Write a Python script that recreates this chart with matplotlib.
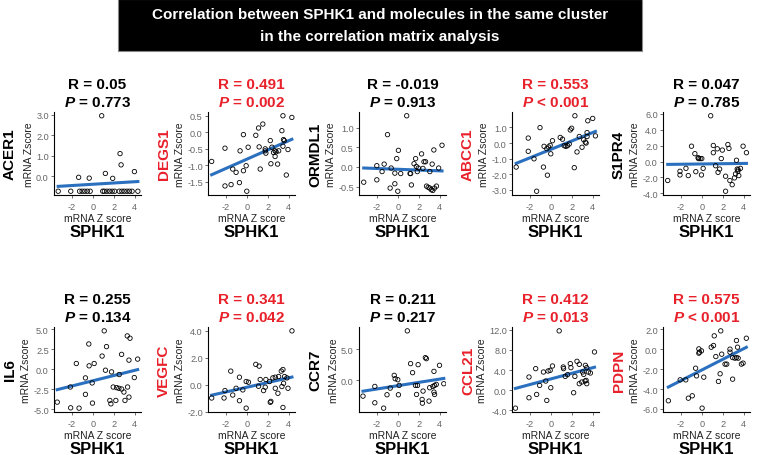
import matplotlib
matplotlib.use("Agg")
import matplotlib.pyplot as plt
from matplotlib.patches import Rectangle
import numpy as np

plt.rcParams['font.family'] = ['Liberation Sans', 'DejaVu Sans']
plt.rcParams['mathtext.fontset'] = 'custom'
plt.rcParams['mathtext.rm'] = 'Liberation Sans'
plt.rcParams['mathtext.bfit'] = 'Liberation Sans:bold:italic'

W, H = 760, 456
RED = '#e8212b'
BLUE = '#2b70bf'

genes = ["ACER1", "DEGS1", "ORMDL1", "ABCC1", "S1PR4",
         "IL6", "VEGFC", "CCR7", "CCL21", "PDPN"]
r_text = ["0.05", "0.491", "-0.019", "0.553", "0.047",
          "0.255", "0.341", "0.211", "0.412", "0.575"]
p_text = ["= 0.773", "= 0.002", "= 0.913", "< 0.001", "= 0.785",
          "= 0.134", "= 0.042", "= 0.217", "= 0.013", "< 0.001"]
significant = [False, True, False, True, False,
               False, True, False, True, True]

# SPHK1 z score (x) and gene z score (y)
acer1_x = [0.85, 2.6, 2.7, 1.2, 3.97, -1.35, -0.34, 1.9,
           -3.3, -2.1, -1.26, -1.02, -0.77, -0.52, -0.25, 1.35, 1.6, 1.85, 2.09,
           2.52, 2.77, 3.0, 3.26, 3.5, 3.75, 4.3, 0.95, 1.1]
acer1_y = [2.95, 1.1, 0.55, 0.13, 0.22, -0.06, -0.1, -0.11,
           -0.74, -0.74, -0.74, -0.74, -0.74, -0.74, -0.74, -0.74, -0.74, -0.74, -0.74,
           -0.74, -0.74, -0.74, -0.74, -0.74, -0.74, -0.74, -0.74, -0.74]

degs1_x = [-3.35, -2.08, -2.08, -1.5, -1.34, -1.02, -0.7, -0.64, -0.32, -0.32,
           -0.06, 0.13, 0.0, 0.86, 1.12, 1.18, 1.28, 1.53, 1.76, 1.76,
           1.82, 2.24, 2.3, 2.4, 2.55, 2.7, 2.7, 2.8, 2.94, 3.04,
           3.35, 3.45, 3.5, 3.45, 3.58, 3.77, 3.93, 4.3]
degs1_y = [-0.88, -0.48, -1.62, -1.58, -1.11, -1.21, -1.52, -0.56, -0.07, -1.16,
           -1.01, -0.45, -1.78, -0.09, 0.13, -0.44, -1.11, 0.25, -0.5, -0.56,
           -0.63, -0.25, -0.95, -0.45, -0.61, -0.56, -0.73, -0.59, -0.96, -0.56,
           0.05, 0.5, -0.22, -0.42, -0.25, -1.29, -0.52, 0.45]

ormdl1_x = [0.85, -0.98, -3.25, -2.0, -2.0, -1.5, -1.3, -0.63, -0.73, -0.28,
            -0.28, -0.1, 0.06, 0.0, 0.28, 1.17, 1.3, 1.23, 1.55, 1.7,
            1.77, 1.86, 1.96, 2.27, 2.4, 2.5, 2.65, 2.74, 2.9, 3.06,
            3.19, 3.06, 3.28, 3.34, 3.44, 3.5, 3.69, 3.9, 4.22]
ormdl1_y = [1.3, 0.82, -0.39, 0.03, -0.33, -0.12, 0.07, -0.03, -0.54, -0.43,
            -0.16, 0.21, 0.42, -0.62, -0.17, -0.17, -0.46, -0.17, 0.08, 0.21,
            0.01, -0.12, -0.03, 0.33, -0.04, 0.13, 0.13, -0.49, -0.52, -0.54,
            -0.58, -0.12, 0.07, -0.6, 0.43, -0.54, -0.49, -0.03, 0.55]

abcc1_x = [-3.3, -2.15, -2.15, -1.6, -1.35, -1.03, -0.7, -0.64, -0.38, -0.32,
           -0.22, -0.06, 0.0, 0.16, 0.9, 1.12, 1.28, 1.44, 1.6, 1.76,
           1.86, 1.99, 2.3, 2.24, 2.5, 2.72, 2.98, 3.14, 3.3, 3.37,
           3.46, 3.46, 3.53, 4.0, 4.26]
abcc1_y = [-1.54, 0.32, -0.53, -1.01, -3.09, 0.99, -1.54, -0.21, -0.36, -2.06,
           -0.25, -0.15, -0.69, 0.15, 0.36, 0.25, -0.17, -0.21, -0.17, -0.06,
           0.84, 0.95, 1.75, -1.58, -0.57, 0.42, -0.27, 0.21, 0.06, 0.0,
           0.42, 0.67, 1.43, 1.58, 0.46]

s1pr4_x = [0.85, -3.25, -2.08, -2.08, -1.51, -1.29, -0.98, -0.66, -0.57, -0.35,
           -0.32, -0.16, 0.0, -0.03, 0.13, 1.1, 1.1, 1.32, 1.48, 1.55,
           1.7, 1.86, 1.96, 2.27, 2.27, 2.49, 2.59, 2.68, 2.9, 3.12,
           3.22, 3.31, 3.38, 3.44, 3.47, 3.53, 3.69, 3.94, 4.26]
s1pr4_y = [5.76, -2.39, -1.23, -1.69, -0.86, -1.77, 1.93, 0.99, -1.28, 0.49,
           0.37, 0.37, 0.37, -1.69, -0.86, 2.02, 1.11, -0.53, 1.6, -1.36,
           -0.95, 0.37, 1.44, -1.85, -3.74, 2.14, 1.65, -2.39, -2.92, -2.06,
           -1.56, 0.16, -0.95, -1.23, -1.03, -1.77, -0.86, 1.93, 1.11]

il6_x = [1.09, 3.29, 3.55, -0.38, 1.31, 0.89, 2.75, -1.57, -0.35, 0.13,
         3.45, 4.28, 1.21, 1.79, 2.52, 3.96, -0.7, -0.06, -0.7, -2.14,
         1.95, 2.27, 2.49, 2.75, 2.97, 3.32, 3.45, 3.07, 2.2, 1.63,
         1.73, -0.03, -3.39, -2.11, -1.31]
il6_y = [4.79, 4.16, 3.87, 3.15, 2.82, 1.64, 1.85, 0.71, 0.42, 0.71,
         1.13, 1.26, -0.13, -0.34, -0.67, -1.05, -1.09, -1.72, -3.15, -2.23,
         -2.23, -2.31, -2.39, -2.48, -2.86, -2.23, -3.49, -3.91, -3.91, -3.91,
         -4.33, -4.24, -4.12, -4.83, -4.87]

vegfc_x = [4.31, 0.86, 1.18, -1.53, -0.7, 1.28, 1.82, 2.17, 2.49, 2.72,
           3.04, 3.29, 3.45, 3.61, 3.83, -2.08, -1.02, -0.38, -0.06, 0.16,
           1.12, 1.6, 1.76, 2.72, 2.97, 3.35, 3.51, 3.93, -3.35, -2.17,
           -1.34, -0.7, 2.24, 2.3, -0.06, 3.45]
vegfc_y = [4.0, 1.52, 1.39, 1.02, 0.57, 0.4, 0.4, 0.25, 0.52, 0.57,
           0.62, 1.02, 1.14, 0.62, 0.52, -0.42, -0.25, -0.37, 0.25, 0.2,
           -0.1, -0.42, -0.17, -0.25, -0.62, -0.12, 0.12, -0.25, -0.97, -0.97,
           -0.75, -1.17, -1.29, -1.22, -1.72, -1.67]

ccr7_x = [0.91, 1.22, 1.94, 2.63, 2.73, 1.41, 3.45, 3.98, -0.34, -0.25,
          0.0, -0.72, 0.13, -2.19, 1.69, 1.88, 2.41, 3.04, 3.35, 3.51,
          3.67, 4.39, 1.79, 2.32, 2.35, 2.98, 3.45, 3.51, -3.32, -1.03,
          0.06, -2.19, -1.35]
ccr7_y = [7.96, 2.69, 2.53, 3.66, 3.49, 1.24, 1.45, 2.42, 0.81, 0.27,
          0.11, -1.24, -0.81, -0.97, -0.81, -0.81, -1.72, -1.18, -0.97, -0.81,
          -0.65, -0.54, -2.26, -3.06, -3.66, -3.33, -1.88, -2.26, -2.53, -2.31,
          -2.31, -3.6, -4.46]

ccl21_x = [0.8, 4.17, -2.08, -1.44, -1.06, -1.35, -2.08, -3.37, -0.7, -0.48,
           -0.26, -0.06, 0.16, 0.0, -0.38, 1.19, 1.22, 1.38, 1.6, 1.86,
           1.92, 2.3, 2.18, 2.5, 2.72, 2.72, 2.95, 3.04, 3.14, 3.27,
           3.3, 3.43, 3.37, 3.43, 3.59, 3.78]
ccl21_y = [11.8, 7.6, 2.6, 4.27, 0.93, -0.87, -1.53, -3.6, 3.6, 1.8,
           3.8, 3.93, 4.8, 0.47, -2.07, 4.6, 4.27, 2.73, 3.07, 5.27,
           4.47, 2.73, -0.53, 5.73, 5.13, 1.27, 1.6, 3.6, 3.13, 1.8,
           4.93, 4.47, 1.93, 1.27, 3.6, 3.4]

pdpn_x = [1.81, 1.19, 1.12, 0.9, 4.25, 3.31, 3.41, -0.28, -0.22, -0.03,
          -0.28, 1.34, 1.9, 2.69, 2.69, 2.94, 3.16, 3.31, 3.47, 3.78,
          3.94, 2.22, 2.38, -0.59, -0.5, 0.19, 1.75, -2.06, -1.53, 2.94,
          1.59, -0.91, -1.28, -3.19, 0.03]
pdpn_y = [1.84, 1.34, 0.37, 0.2, 1.1, 0.87, 0.2, 0.03, -0.3, -0.17,
          -0.4, -0.74, -0.5, 0.0, -0.3, -0.84, -0.9, -0.84, -0.9, -1.5,
          -1.4, -1.5, -1.5, -1.91, -2.68, -2.81, -2.47, -3.08, -3.08, -3.01,
          -3.24, -4.68, -4.92, -5.18, -5.92]

xs = [acer1_x, degs1_x, ormdl1_x, abcc1_x, s1pr4_x,
      il6_x, vegfc_x, ccr7_x, ccl21_x, pdpn_x]
ys = [acer1_y, degs1_y, ormdl1_y, abcc1_y, s1pr4_y,
      il6_y, vegfc_y, ccr7_y, ccl21_y, pdpn_y]

x_ticks = [-2, 0, 2, 4]
y_ticks = [[0.0, 1.0, 2.0, 3.0],
           [-1.5, -1.0, -0.5, 0.0, 0.5],
           [-0.5, 0.0, 0.5, 1.0],
           [-3.0, -2.0, -1.0, 0.0, 1.0],
           [-4.0, -2.0, 0.0, 2.0, 4.0, 6.0],
           [-5.0, -2.5, 0.0, 2.5, 5.0],
           [-2.0, 0.0, 2.0, 4.0],
           [0.0, 5.0],
           [-4.0, 0.0, 4.0, 8.0, 12.0],
           [-6.0, -4.0, -2.0, 0.0, 2.0]]

fig = plt.figure(figsize=(W / 100, H / 100), dpi=100)

# title bar
fig.patches.append(Rectangle((118 / W, 1 - 52 / H), 524 / W, 52 / H,
                             transform=fig.transFigure, facecolor='black',
                             edgecolor='#888888', linewidth=0.8))
fig.text(0.5, 1 - 15 / H, "Correlation between SPHK1 and molecules in the same cluster",
         color='white', fontsize=11, fontweight='bold', ha='center', va='center')
fig.text(0.5, 1 - 37 / H, "in the correlation matrix analysis",
         color='white', fontsize=11, fontweight='bold', ha='center', va='center')

lefts = [54, 208, 359, 512, 663]
aw = 87
rows = [(113, 196), (328, 413)]

for i in range(10):
    row, col = divmod(i, 5)
    top, bot = rows[row]
    left = lefts[col]
    ax = fig.add_axes([left / W, 1 - bot / H, aw / W, (bot - top) / H])
    x = np.array(xs[i])
    y = np.array(ys[i])
    ax.scatter(x, y, s=10, facecolors='none', edgecolors='black', linewidths=0.6, zorder=3)
    k, b = np.polyfit(x, y, 1)
    xl = np.array([x.min(), x.max()])
    ax.plot(xl, k * xl + b, color=BLUE, linewidth=2.2, zorder=2)

    ax.set_xticks(x_ticks)
    ax.set_xticklabels([str(t) for t in x_ticks])
    ax.set_yticks(y_ticks[i])
    ax.set_yticklabels([f"{t:.1f}" for t in y_ticks[i]])
    ax.tick_params(labelsize=6.6, colors='#555555', length=2.5, width=0.6, pad=1.2)
    ax.tick_params(axis='x', pad=2.5)
    ax.tick_params(axis='both', labelcolor='#666666')
    for s in ['top', 'right']:
        ax.spines[s].set_visible(False)
    for s in ['left', 'bottom']:
        ax.spines[s].set_linewidth(0.8)
    ax.set_xlim(-3.7, 4.6)
    ax.set_ylabel("mRNA Zscore", fontsize=7.5, color='#222222', labelpad=1.2)
    ax.set_xlabel("mRNA Z score", fontsize=7.5, color='#222222', labelpad=1.5)

    c = RED if significant[i] else 'black'
    cx = (left + aw / 2) / W
    ry = 85 if row == 0 else 300
    fig.text(cx, 1 - ry / H, "R = " + r_text[i], color=c, fontsize=11,
             fontweight='bold', ha='center', va='center')
    fig.text(cx, 1 - (ry + 18) / H, r"$\bfit{P}$ " + p_text[i], color=c, fontsize=11,
             fontweight='bold', ha='center', va='center')

    cy = 1 - (top + bot) / 2 / H
    fig.text((left - 44) / W, cy, genes[i], color=c, fontsize=11, fontweight='bold',
             rotation=90, ha='center', va='center')
    fig.text(cx, 1 - (bot + 37) / H, "SPHK1", color='black', fontsize=12,
             fontweight='bold', ha='center', va='center')

fig.savefig("out.png", dpi=100)
